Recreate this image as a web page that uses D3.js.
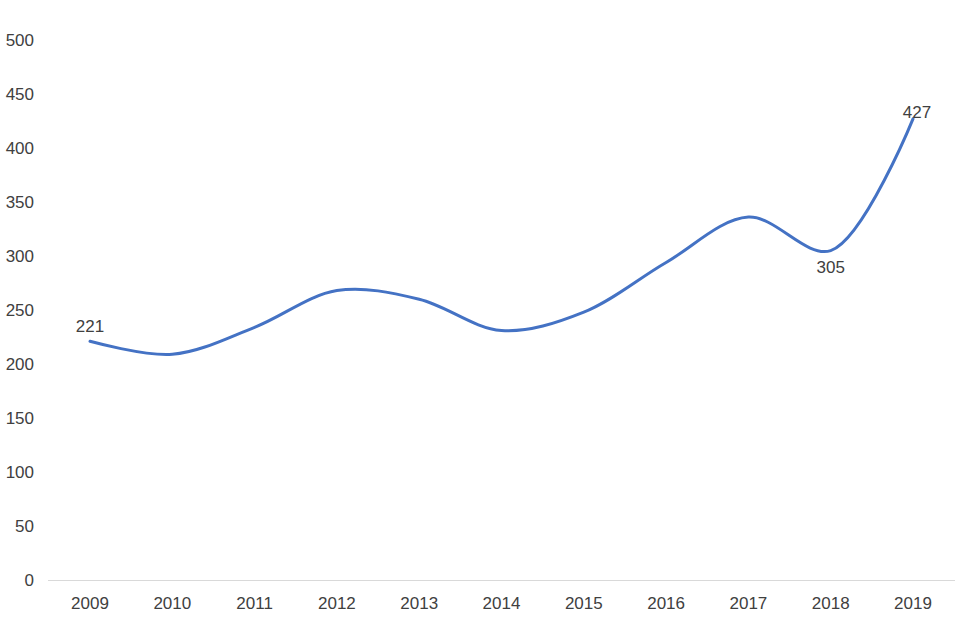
<!DOCTYPE html>
<html><head><meta charset="utf-8">
<script src="https://cdn.jsdelivr.net/npm/d3@7"></script>
<style>body{margin:0;background:#fff}text{font-family:"Liberation Sans",Arial,sans-serif;fill:#404040;font-size:17px}</style>
</head><body><svg id="c" width="977" height="631"></svg>
<script>
const years=["2009","2010","2011","2012","2013","2014","2015","2016","2017","2018","2019"];
const values=[221,209,234,268,260,231,248,294,336,305,427];
const yTicks=[0,50,100,150,200,250,300,350,400,450,500];
const labels=[{i:0,dy:-9},{i:9,dy:22},{i:10,dy:-1}];
const svg=d3.select("#c");
const x=d3.scalePoint().domain(years).range([90,913]);
const y=d3.scaleLinear().domain([0,500]).range([580,40]);
svg.append("line").attr("x1",48).attr("x2",955).attr("y1",580.5).attr("y2",580.5).attr("stroke","#d9d9d9");
svg.selectAll(".yt").data(yTicks).join("text").attr("x",34).attr("y",d=>y(d)+6).attr("text-anchor","end").text(d=>d);
svg.selectAll(".xt").data(years).join("text").attr("x",d=>x(d)).attr("y",609).attr("text-anchor","middle").text(d=>d);
const line=d3.line().x((d,i)=>x(years[i])).y(d=>y(d)).curve(d3.curveCatmullRom.alpha(0.5));
svg.append("path").attr("d",line(values)).attr("fill","none").attr("stroke","#4472c4").attr("stroke-width",3).attr("stroke-linecap","round");
svg.selectAll(".lb").data(labels).join("text").attr("x",d=>x(years[d.i])+(d.i==10?4:0)).attr("y",d=>y(values[d.i])+d.dy).attr("text-anchor","middle").attr("font-size","18px").text(d=>values[d.i]);
</script></body></html>
